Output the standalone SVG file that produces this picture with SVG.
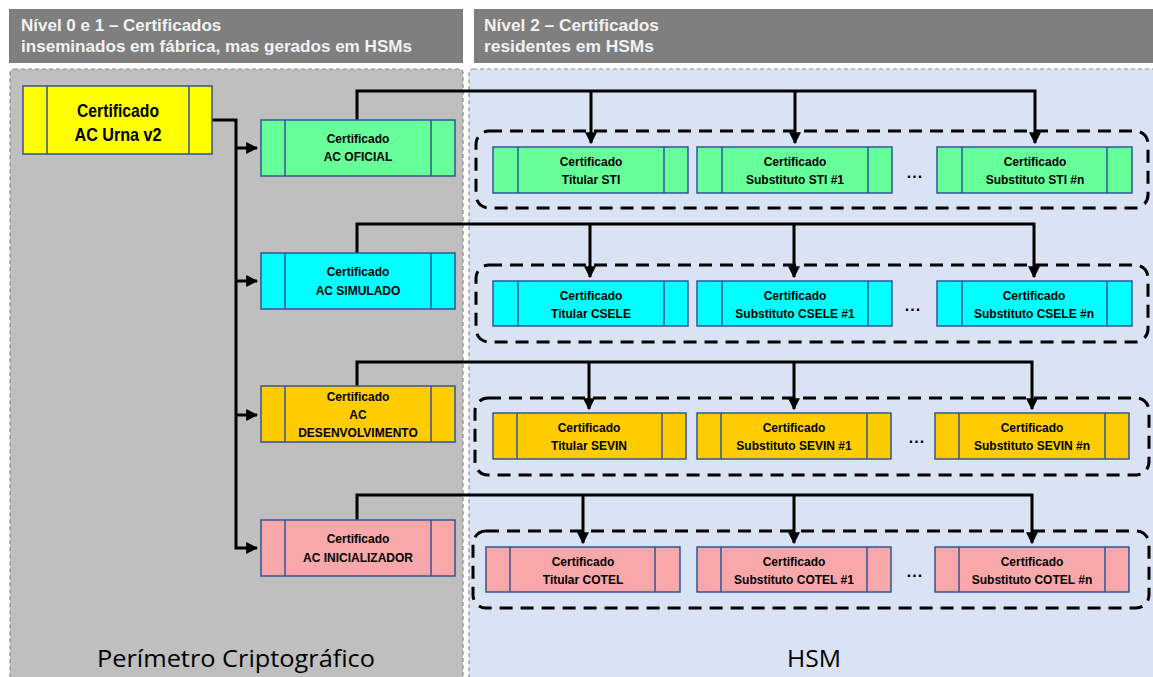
<svg xmlns="http://www.w3.org/2000/svg" width="1153" height="677" viewBox="0 0 1153 677">
<style>
.hdr{fill:#7f7f7f}
.hdrt{font-family:"Liberation Sans",Arial,sans-serif;font-weight:bold;font-size:17px;fill:#f2f2f2}
.pl{fill:#bfbfbf;stroke:#8c8c8c;stroke-width:1.2;stroke-dasharray:4 3}
.pr{fill:#dae3f3;stroke:#8c8c8c;stroke-width:1.2;stroke-dasharray:4 3}
.box{stroke:#2f5597;stroke-width:1.5}
.sep{stroke:#2f5597;stroke-width:1.5;fill:none}
.t{font-family:"Liberation Sans",Arial,sans-serif;font-weight:bold;font-size:12px;fill:#000;text-anchor:middle}
.tb{font-family:"Liberation Sans",Arial,sans-serif;font-weight:bold;font-size:19px;fill:#000;text-anchor:middle}
.grp{fill:none;stroke:#000;stroke-width:3;stroke-dasharray:13 8}
.c{fill:none;stroke:#000;stroke-width:3}
.lbl{font-family:"Open Sans","Noto Sans",sans-serif;font-size:24px;fill:#000;text-anchor:middle}
.dots{font-family:"Liberation Sans",Arial,sans-serif;font-weight:bold;font-size:16px;fill:#000;text-anchor:middle;letter-spacing:1px}
.g{fill:#66ff99}.cy{fill:#00ffff}.o{fill:#ffcc00}.p{fill:#f8a8a8}.y{fill:#ffff00}
</style>
<defs>
<marker id="ah" viewBox="0 0 10 10" refX="9" refY="5" markerWidth="4" markerHeight="4" markerUnits="strokeWidth" orient="auto">
<path d="M0,0 L10,5 L0,10 z" fill="#000"/>
</marker>
</defs>
<rect width="1153" height="677" fill="#ffffff"/>
<g id="headers">
<rect class="hdr" x="9" y="9" width="454" height="54"/>
<text class="hdrt" x="21" y="31">Nível 0 e 1 – Certificados</text>
<text class="hdrt" x="21" y="52" textLength="391" lengthAdjust="spacingAndGlyphs">inseminados em fábrica, mas gerados em HSMs</text>
<rect class="hdr" x="474" y="9" width="679" height="54"/>
<text class="hdrt" x="484" y="31" textLength="175" lengthAdjust="spacingAndGlyphs">Nível 2 – Certificados</text>
<text class="hdrt" x="484" y="52" textLength="170" lengthAdjust="spacingAndGlyphs">residentes em HSMs</text>
</g>
<g id="panels">
<rect class="pl" x="10" y="69" width="453" height="612" rx="4"/>
<rect class="pr" x="469" y="69" width="688" height="612" rx="4"/>
<text class="lbl" x="236" y="667" textLength="278" lengthAdjust="spacingAndGlyphs">Perímetro Criptográfico</text>
<text class="lbl" x="814" y="667" textLength="54" lengthAdjust="spacingAndGlyphs">HSM</text>
</g>
<g id="groups">
<rect class="grp" x="476" y="131" width="672" height="77" rx="13"/>
<rect class="grp" x="476" y="265" width="672" height="77" rx="13"/>
<rect class="grp" x="475" y="398" width="674" height="77" rx="13"/>
<rect class="grp" x="473" y="531" width="676" height="77" rx="13"/>
</g>
<g id="connectors">
<polyline class="c" points="212,120 236,120 236,548 257,548" marker-end="url(#ah)"/>
<line class="c" x1="236" y1="148" x2="257" y2="148" marker-end="url(#ah)"/>
<line class="c" x1="236" y1="281" x2="257" y2="281" marker-end="url(#ah)"/>
<line class="c" x1="236" y1="415" x2="257" y2="415" marker-end="url(#ah)"/>
<polyline class="c" points="357,120 357,91 1035,91 1035,143" marker-end="url(#ah)"/>
<line class="c" x1="591" y1="91" x2="591" y2="143" marker-end="url(#ah)"/>
<line class="c" x1="795" y1="91" x2="795" y2="143" marker-end="url(#ah)"/>
<polyline class="c" points="357,253 357,224 1034,224 1034,277" marker-end="url(#ah)"/>
<line class="c" x1="590" y1="224" x2="590" y2="277" marker-end="url(#ah)"/>
<line class="c" x1="794" y1="224" x2="794" y2="277" marker-end="url(#ah)"/>
<polyline class="c" points="357,386 357,362 1032,362 1032,409" marker-end="url(#ah)"/>
<line class="c" x1="589" y1="362" x2="589" y2="409" marker-end="url(#ah)"/>
<line class="c" x1="794" y1="362" x2="794" y2="409" marker-end="url(#ah)"/>
<polyline class="c" points="357,520 357,495 1032,495 1032,543" marker-end="url(#ah)"/>
<line class="c" x1="583" y1="495" x2="583" y2="543" marker-end="url(#ah)"/>
<line class="c" x1="794" y1="495" x2="794" y2="543" marker-end="url(#ah)"/>
</g>
<g id="ac-urna">
<rect class="box y" x="23" y="86" width="189" height="68"/>
<path class="sep" d="M47,86V154M189,86V154"/>
<text class="tb" x="118" y="117" textLength="82" lengthAdjust="spacingAndGlyphs">Certificado</text>
<text class="tb" x="118" y="141" textLength="87" lengthAdjust="spacingAndGlyphs">AC Urna v2</text>
</g>
<g id="ac-oficial">
<rect class="box g" x="261" y="120" width="194" height="56"/>
<path class="sep" d="M285,120V176M431,120V176"/>
<text class="t" x="358" y="143">Certificado</text>
<text class="t" x="358" y="161">AC OFICIAL</text>
</g>
<g id="ac-simulado">
<rect class="box cy" x="261" y="253" width="194" height="56"/>
<path class="sep" d="M285,253V309M431,253V309"/>
<text class="t" x="358" y="276">Certificado</text>
<text class="t" x="358" y="295">AC SIMULADO</text>
</g>
<g id="ac-desenvolvimento">
<rect class="box o" x="261" y="386" width="194" height="56"/>
<path class="sep" d="M285,386V442M431,386V442"/>
<text class="t" x="358" y="401">Certificado</text>
<text class="t" x="358" y="419">AC</text>
<text class="t" x="358" y="437">DESENVOLVIMENTO</text>
</g>
<g id="ac-inicializador">
<rect class="box p" x="261" y="520" width="194" height="56"/>
<path class="sep" d="M285,520V576M431,520V576"/>
<text class="t" x="358" y="543">Certificado</text>
<text class="t" x="358" y="562">AC INICIALIZADOR</text>
</g>
<g id="titular-sti">
<rect class="box g" x="493" y="147" width="195" height="46"/>
<path class="sep" d="M518,147V193M664,147V193"/>
<text class="t" x="591" y="166">Certificado</text>
<text class="t" x="591" y="184">Titular STI</text>
</g>
<g id="subst-sti-1">
<rect class="box g" x="697" y="147" width="195" height="46"/>
<path class="sep" d="M722,147V193M868,147V193"/>
<text class="t" x="795" y="166">Certificado</text>
<text class="t" x="795" y="184">Substituto STI #1</text>
</g>
<text class="dots" x="915" y="178">...</text>
<g id="subst-sti-n">
<rect class="box g" x="937" y="147" width="195" height="46"/>
<path class="sep" d="M962,147V193M1107,147V193"/>
<text class="t" x="1035" y="166">Certificado</text>
<text class="t" x="1035" y="184">Substituto STI #n</text>
</g>
<g id="titular-csele">
<rect class="box cy" x="493" y="281" width="195" height="45"/>
<path class="sep" d="M518,281V326M664,281V326"/>
<text class="t" x="591" y="300">Certificado</text>
<text class="t" x="591" y="318">Titular CSELE</text>
</g>
<g id="subst-csele-1">
<rect class="box cy" x="697" y="281" width="195" height="45"/>
<path class="sep" d="M722,281V326M868,281V326"/>
<text class="t" x="795" y="300">Certificado</text>
<text class="t" x="795" y="318">Substituto CSELE #1</text>
</g>
<text class="dots" x="913" y="311">...</text>
<g id="subst-csele-n">
<rect class="box cy" x="937" y="281" width="195" height="45"/>
<path class="sep" d="M962,281V326M1107,281V326"/>
<text class="t" x="1034" y="300">Certificado</text>
<text class="t" x="1034" y="318">Substituto CSELE #n</text>
</g>
<g id="titular-sevin">
<rect class="box o" x="493" y="413" width="193" height="46"/>
<path class="sep" d="M517,413V459M662,413V459"/>
<text class="t" x="589" y="432">Certificado</text>
<text class="t" x="589" y="450">Titular SEVIN</text>
</g>
<g id="subst-sevin-1">
<rect class="box o" x="697" y="413" width="194" height="46"/>
<path class="sep" d="M721,413V459M867,413V459"/>
<text class="t" x="794" y="432">Certificado</text>
<text class="t" x="794" y="450">Substituto SEVIN #1</text>
</g>
<text class="dots" x="917" y="443">...</text>
<g id="subst-sevin-n">
<rect class="box o" x="935" y="413" width="194" height="46"/>
<path class="sep" d="M959,413V459M1105,413V459"/>
<text class="t" x="1032" y="432">Certificado</text>
<text class="t" x="1032" y="450">Substituto SEVIN #n</text>
</g>
<g id="titular-cotel">
<rect class="box p" x="486" y="547" width="194" height="45"/>
<path class="sep" d="M510,547V592M655,547V592"/>
<text class="t" x="583" y="566">Certificado</text>
<text class="t" x="583" y="584">Titular COTEL</text>
</g>
<g id="subst-cotel-1">
<rect class="box p" x="697" y="547" width="194" height="45"/>
<path class="sep" d="M721,547V592M867,547V592"/>
<text class="t" x="794" y="566">Certificado</text>
<text class="t" x="794" y="584">Substituto COTEL #1</text>
</g>
<text class="dots" x="915" y="577">...</text>
<g id="subst-cotel-n">
<rect class="box p" x="935" y="547" width="194" height="45"/>
<path class="sep" d="M959,547V592M1105,547V592"/>
<text class="t" x="1032" y="566">Certificado</text>
<text class="t" x="1032" y="584">Substituto COTEL #n</text>
</g>
</svg>
